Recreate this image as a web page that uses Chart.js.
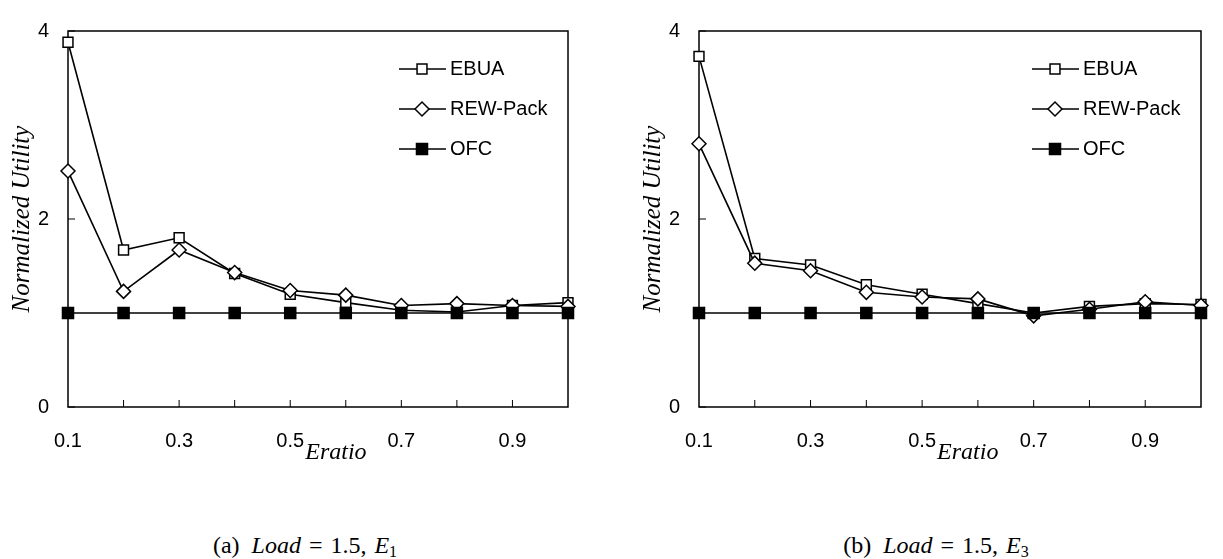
<!DOCTYPE html>
<html>
<head>
<meta charset="utf-8">
<script src="https://cdn.jsdelivr.net/npm/chart.js@4.4.0/dist/chart.umd.min.js"></script>
<style>
  body { margin: 0; background: #fff; width: 1223px; height: 559px; overflow: hidden; position: relative; }
  canvas { position: absolute; top: 0; }
  .cap { position: absolute; top: 530px; width: 610px; text-align: center; font-family: "Liberation Serif", serif; font-size: 24px; line-height: 30px; color: #000; }
  .cap i { font-style: italic; }
  .cap sub { font-size: 16px; vertical-align: -4px; line-height: 0; }
</style>
</head>
<body>
<canvas id="chartA" width="600" height="480" style="left:0"></canvas>
<canvas id="chartB" width="592" height="480" style="left:631px"></canvas>
<div class="cap" style="left:0">(a)<span style="margin-left:12px"><i>Load</i></span><span style="margin:0 8px">=</span>1.5,<span style="margin-left:8px"><i>E</i><sub>1</sub></span></div>
<div class="cap" style="left:631px">(b)<span style="margin-left:12px"><i>Load</i></span><span style="margin:0 8px">=</span>1.5,<span style="margin-left:8px"><i>E</i><sub>3</sub></span></div>
<script>
// categories (Eratio) and the labels actually printed under the axis
const eratio = ['0.1', '0.2', '0.3', '0.4', '0.5', '0.6', '0.7', '0.8', '0.9', '1.0'];
const xTickLabels = ['0.1', '', '0.3', '', '0.5', '', '0.7', '', '0.9', ''];
const yTicks = [0, 2, 4];
const seriesNames = ['EBUA', 'REW-Pack', 'OFC'];

// (a) Load = 1.5, E1
const ebuaE1 = [3.88, 1.67, 1.80, 1.42, 1.20, 1.11, 1.03, 1.01, 1.08, 1.11];
const rewE1  = [2.51, 1.23, 1.67, 1.43, 1.24, 1.19, 1.08, 1.10, 1.08, 1.07];
const ofcE1  = [1, 1, 1, 1, 1, 1, 1, 1, 1, 1];

// (b) Load = 1.5, E3
const ebuaE3 = [3.73, 1.58, 1.51, 1.30, 1.20, 1.10, 1.00, 1.07, 1.10, 1.09];
const rewE3  = [2.80, 1.53, 1.45, 1.22, 1.17, 1.15, 0.97, 1.04, 1.12, 1.08];
const ofcE3  = [1, 1, 1, 1, 1, 1, 1, 1, 1, 1];

const xTitle = 'Eratio';
const yTitle = 'Normalized Utility';

Chart.defaults.font.family = '"Liberation Sans", Arial, sans-serif';
Chart.defaults.color = '#000';

// frame, inward ticks, the odd "Eratio" label and the in-plot legend
const framePlugin = {
  id: 'frame',
  beforeDatasetsDraw(chart) {
    const ctx = chart.ctx, a = chart.chartArea;
    const x = chart.scales.x, y = chart.scales.y;
    ctx.save();
    ctx.strokeStyle = '#000';
    ctx.lineWidth = 1.5;
    ctx.strokeRect(a.left, a.top, a.right - a.left, a.bottom - a.top);
    ctx.lineWidth = 1;
    ctx.beginPath();
    for (let i = 1; i < eratio.length - 1; i++) {
      const px = x.getPixelForValue(i);
      ctx.moveTo(px, a.bottom);
      ctx.lineTo(px, a.bottom - 7);
    }
    yTicks.forEach(v => {
      const py = y.getPixelForValue(v);
      ctx.moveTo(a.left, py);
      ctx.lineTo(a.left + 7, py);
    });
    ctx.stroke();
    ctx.restore();
  },
  afterDraw(chart) {
    const ctx = chart.ctx, a = chart.chartArea;
    const x = chart.scales.x;
    ctx.save();
    ctx.fillStyle = '#000';
    ctx.font = 'italic 24px "Liberation Serif"';
    ctx.textBaseline = 'middle';
    ctx.textAlign = 'left';
    ctx.fillText(xTitle, x.getPixelForValue(4) + 15, a.bottom + 46);

    const x0 = a.right - 169;
    ctx.font = '20px "Liberation Sans"';
    chart.data.datasets.forEach((ds, i) => {
      const yy = a.top + 38 + i * 40;
      ctx.strokeStyle = '#000';
      ctx.lineWidth = 1.5;
      ctx.beginPath();
      ctx.moveTo(x0, yy);
      ctx.lineTo(x0 + 47, yy);
      ctx.stroke();
      ctx.fillStyle = ds.pointBackgroundColor;
      Chart.helpers.drawPoint(ctx, {
        pointStyle: ds.pointStyle, radius: ds.pointRadius,
        borderWidth: ds.pointBorderWidth, rotation: 0
      }, x0 + 23, yy);
      ctx.fillStyle = '#000';
      ctx.fillText(ds.label, x0 + 51, yy);
    });
    ctx.restore();
  }
};

function makeChart(id, ebua, rew, ofc, padRight, padTop) {
  const common = { borderColor: '#000', borderWidth: 1.6, pointBorderColor: '#000',
                   pointBorderWidth: 1.5, tension: 0, clip: false };
  return new Chart(document.getElementById(id), {
    type: 'line',
    data: {
      labels: eratio,
      datasets: [
        Object.assign({ label: seriesNames[0], data: ebua, pointStyle: 'rect', pointRadius: 7,
                        pointBackgroundColor: '#fff', order: 3 }, common),
        Object.assign({ label: seriesNames[1], data: rew, pointStyle: 'rectRot', pointRadius: 7,
                        pointBackgroundColor: '#fff', order: 2 }, common),
        Object.assign({ label: seriesNames[2], data: ofc, pointStyle: 'rect', pointRadius: 7.8,
                        pointBackgroundColor: '#000', order: 1 }, common)
      ]
    },
    options: {
      responsive: false,
      animation: false,
      layout: { padding: { top: padTop, right: padRight, left: 0, bottom: 0 } },
      plugins: { legend: { display: false }, tooltip: { enabled: false } },
      scales: {
        x: {
          offset: false,
          grid: { display: false, drawTicks: false },
          border: { display: false },
          ticks: {
            autoSkip: false, maxRotation: 0, padding: 22,
            font: { size: 20 },
            callback: (v, i) => xTickLabels[i]
          },
          afterFit: s => { s.height = 73; }
        },
        y: {
          min: 0, max: 4,
          grid: { display: false, drawTicks: false },
          border: { display: false },
          afterBuildTicks: s => { s.ticks = yTicks.map(v => ({ value: v })); },
          ticks: { padding: 19, font: { size: 20 } },
          title: {
            display: true, text: yTitle, padding: { top: 7, bottom: 0 },
            font: { family: '"Liberation Serif"', style: 'italic', size: 25 }
          },
          afterFit: s => { s.width = 68; }
        }
      }
    },
    plugins: [framePlugin]
  });
}

makeChart('chartA', ebuaE1, rewE1, ofcE1, 32, 18);
makeChart('chartB', ebuaE3, rewE3, ofcE3, 17, 19);
</script>
</body>
</html>
